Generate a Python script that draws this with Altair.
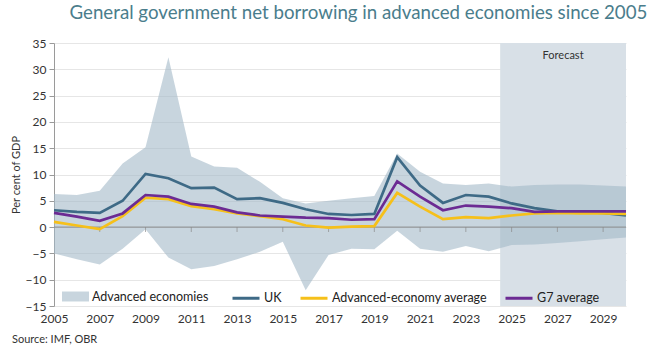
import altair as alt
import pandas as pd

years = list(range(2005, 2031))
band_high = [6.3, 6.1, 6.9, 12.1, 15.2, 32.3, 13.4, 11.5, 11.3, 8.6, 5.5, 4.5, 5.0, 5.5, 5.9,
             14.0, 10.5, 8.3, 8.0, 8.3, 7.7, 8.0, 8.1, 8.1, 7.9, 7.7]
band_low = [-5.0, -6.1, -7.1, -4.1, -0.4, -5.8, -8.0, -7.4, -6.1, -4.7, -2.8, -12.0, -5.3, -4.1, -4.2,
            -0.7, -4.1, -4.7, -3.6, -4.6, -3.4, -3.3, -3.0, -2.7, -2.3, -2.0]
uk = [3.2, 2.9, 2.7, 5.0, 10.1, 9.3, 7.4, 7.5, 5.3, 5.5, 4.6, 3.4, 2.5, 2.3, 2.5,
      13.3, 7.9, 4.6, 6.1, 5.8, 4.5, 3.6, 3.0, 2.9, 2.7, 2.2]
adv_avg = [1.0, 0.3, -0.4, 2.1, 5.6, 5.3, 4.0, 3.4, 2.6, 2.1, 1.5, 0.3, -0.1, 0.1, 0.2,
           6.5, 3.9, 1.5, 1.9, 1.7, 2.2, 2.6, 2.7, 2.6, 2.6, 2.5]
g7 = [2.7, 2.0, 1.2, 2.6, 6.1, 5.8, 4.4, 3.9, 2.8, 2.2, 2.0, 1.8, 1.7, 1.4, 1.5,
      8.7, 5.8, 3.2, 4.1, 3.9, 3.6, 2.9, 3.0, 3.0, 3.0, 3.0]

series_names = ["UK", "Advanced-economy average", "G7 average"]
series_colors = ["#3e6a86", "#f6c01a", "#6c2b93"]
band_name = "Advanced economies"
x_tick_years = list(range(2005, 2030, 2))
y_ticks = list(range(-15, 40, 5))
forecast_start, forecast_end = 2024.5, 2030
y_min, y_max = -15, 35
title_text = "General government net borrowing in advanced economies since 2005"
source_text = "Source: IMF, OBR"
forecast_text = "Forecast"

FONT = "Lato"
W, H = 572, 263

band_df = pd.DataFrame({"year": years, "high": band_high, "low": band_low, "label": band_name})
rows = []
for name, vals in zip(series_names, [uk, adv_avg, g7]):
    for y, v in zip(years, vals):
        rows.append({"year": y, "value": v, "series": name})
lines_df = pd.DataFrame(rows)

xscale = alt.Scale(domain=[2005, 2030], nice=False, zero=False)
yscale = alt.Scale(domain=[y_min, y_max], nice=False)

xaxis = alt.Axis(values=x_tick_years, format="d", domain=False, ticks=False, grid=False,
                 labelFlush=False, labelOverlap=False,
                 labelFont=FONT, labelFontSize=12, labelColor="#333333", labelPadding=7, title=None)
yaxis = alt.Axis(values=y_ticks, domain=True, domainColor="#9a9a9a", tickColor="#9a9a9a", tickSize=5,
                 labelFlush=False, labelOverlap=False,
                 grid=True, gridColor="#e6e6e6", labelFont=FONT, labelFontSize=12, labelColor="#333333",
                 labelPadding=3, title="Per cent of GDP", titleFont=FONT, titleFontSize=11,
                 titleFontWeight="normal", titleColor="#333333", titlePadding=4)


def X(field):
    return alt.X(field, scale=xscale, axis=xaxis)


def Y(field):
    return alt.Y(field, scale=yscale, axis=yaxis)


forecast = alt.Chart(pd.DataFrame({"x": [forecast_start], "x2": [forecast_end],
                                   "y": [y_max], "y2": [y_min]})).mark_rect(color="#d8e0e7").encode(
    x=X("x:Q"), x2="x2:Q", y=Y("y:Q"), y2="y2:Q",
)

forecast_label = alt.Chart(pd.DataFrame({"x": [(forecast_start + forecast_end) / 2], "y": [32.6],
                                         "t": [forecast_text]})).mark_text(
    font=FONT, fontSize=11, color="#333333", baseline="middle").encode(
    x=X("x:Q"), y=Y("y:Q"), text="t:N")

band = alt.Chart(band_df).mark_area(opacity=0.6, strokeWidth=0).encode(
    x=X("year:Q"),
    y=Y("high:Q"),
    y2="low:Q",
    fill=alt.Fill("label:N", scale=alt.Scale(domain=[band_name], range=["#a3b9c8"]),
                  legend=alt.Legend(orient="none", legendX=8, legendY=240, title=None,
                                    symbolType="M-1,-0.37H1V0.37H-1Z", symbolSize=729,
                                    symbolOpacity=0.6, symbolStrokeWidth=0, labelFont=FONT,
                                    labelFontSize=12.5, labelColor="#222222", padding=0,
                                    labelOffset=3, labelLimit=400)),
)

zero_line = alt.Chart(pd.DataFrame({"x": [2005], "x2": [2030], "y": [0]})).mark_rule(
    color="#8a8a8a", strokeWidth=1).encode(
    x=X("x:Q"), x2="x2:Q", y=Y("y:Q"))

ticks = alt.Chart(pd.DataFrame({"year": x_tick_years[1:], "y": [0] * (len(x_tick_years) - 1)})).mark_tick(
    orient="vertical", color="#8a8a8a", size=5, thickness=1, yOffset=2.5).encode(
    x=X("year:Q"), y=Y("y:Q"))

color_scale = alt.Scale(domain=series_names, range=series_colors)
line_layers = []
for i, name in enumerate(series_names):
    lg = alt.Legend(orient="none", legendX=177, legendY=240, direction="horizontal", title=None,
                    symbolType="stroke", symbolSize=729, symbolStrokeWidth=3, labelFont=FONT,
                    labelFontSize=12.5, labelColor="#222222", columnPadding=12, padding=0,
                    labelOffset=3, labelLimit=400)
    line_layers.append(
        alt.Chart(lines_df).transform_filter(alt.datum.series == name).mark_line(strokeWidth=2.7).encode(
            x=X("year:Q"),
            y=Y("value:Q"),
            stroke=alt.Stroke("series:N", scale=color_scale, legend=lg, sort=series_names),
        )
    )

source = alt.Chart(pd.DataFrame({"t": [source_text]})).mark_text(
    font=FONT, fontSize=11, color="#333333", align="left", baseline="middle").encode(
    x=alt.value(-42), y=alt.value(H + 34), text="t:N")

chart = alt.layer(forecast, forecast_label, band, zero_line, ticks, *line_layers, source).properties(
    width=W, height=H,
    autosize=alt.AutoSizeParams(type="none"),
    padding={"left": 54, "top": 43, "right": 33, "bottom": 42},
    title=alt.TitleParams(title_text, anchor="end", font=FONT, fontSize=18.7, fontWeight="normal",
                          color="#4a7d8c", dx=16, offset=14),
).configure_view(stroke=None).resolve_legend(fill="independent", stroke="shared")

chart.save("out.html", embed_options={"renderer": "svg", "actions": False})
